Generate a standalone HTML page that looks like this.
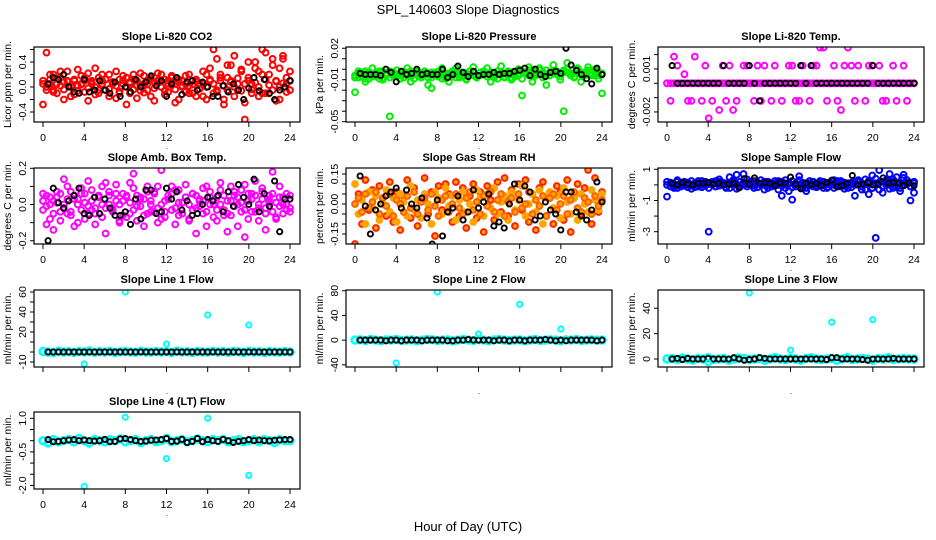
<!DOCTYPE html>
<html><head><meta charset="utf-8"><style>
body{margin:0;background:#fff;}
svg{display:block;font-family:"Liberation Sans",sans-serif;}
</style></head><body>
<svg id="chart" width="936" height="540" viewBox="0 0 936 540" xmlns="http://www.w3.org/2000/svg">
<rect x="0" y="0" width="936" height="540" fill="#fff"/>
<text x="468" y="14" text-anchor="middle" font-size="13">SPL_140603  Slope Diagnostics</text>
<text x="468" y="531" text-anchor="middle" font-size="13">Hour of Day (UTC)</text>
</svg>
<script>
const xTicks=[0,4,8,12,16,20,24];
const co2A=[0.05,-0.05,0.12,0.2,-0.1,0.15,0.08,0.25,-0.15,0.1,0.02,0.18,-0.08,0.22,0.05,-0.12,0.15,0.1,-0.05,0.2,0.08,-0.18,0.12,0.05,0.15,-0.1,0.2,0.02,-0.06,0.18,0.1,-0.15,0.08,0.22,0.0,0.12,-0.08,0.15,0.05,-0.2,0.1,0.18,0.02,-0.1,0.12,0.06,-0.15,0.2,0.3,-0.1,0.45,0.15,-0.2,0.35,0.1,0.5,-0.05,0.25,-0.25,0.4,0.05,0.3,-0.15,0.2,0.55,-0.1,0.35,0.1,-0.2,0.45,0.15,0.25];
const co2B=[-0.28,0.55,0.2,-0.05,0.05,0.25,-0.2,0.1,0.02,-0.12,0.28,0.05,0.15,-0.22,0.1,0.3,-0.05,0.2,0.12,-0.15,0.05,0.25,-0.1,0.18,-0.28,0.08,0.12,-0.18,0.22,0.05,-0.05,0.15,-0.22,0.1,0.2,-0.12,0.05,0.18,-0.25,0.12,0.02,-0.08,0.2,0.1,-0.15,0.05,0.25,-0.2,0.1,0.6,-0.05,0.2,-0.28,0.15,0.35,-0.15,0.05,0.28,-0.52,0.15,-0.1,0.4,0.25,0.6,-0.1,0.2,0.45,-0.22,0.3,0.5,0.05,-0.05];
const co2C=[0.1,0.0,0.05,-0.08,0.14,0.02,-0.04,0.09,0.0,0.12,-0.06,0.04,0.1,-0.02,0.07,0.0,-0.1,0.05,0.13,-0.03,0.08,0.02,-0.07,0.11,0.0,0.06,-0.04,0.1,0.03,-0.09,0.05,0.12,-0.02,0.06,0.0,-0.06,0.1,0.03,-0.04,0.08,0.0,0.05,-0.1,0.04,0.09,-0.03,0.06,0.0,0.12,0.05,-0.08,0.1,0.02,-0.05,0.08,0.0,0.14,-0.06,0.05,0.1,-0.04,0.07,0.0,-0.1,0.12,0.03,-0.05,0.09,0.0,0.06,-0.08,0.1];
const co2K=[0.05,0.15,0.12,0.2,0.0,-0.08,-0.1,0.12,-0.08,-0.05,0.1,-0.05,-0.1,0.08,-0.15,0.0,-0.08,0.12,0.0,0.08,0.18,0.02,0.1,-0.15,0.05,0.15,-0.12,0.08,0.1,-0.05,0.08,0.0,-0.15,-0.15,0.02,-0.08,0.05,-0.05,-0.2,-0.02,0.15,-0.06,0.12,-0.1,-0.2,-0.05,0.0,0.1];
const presA=[-0.022,-0.008,-0.003,-0.012,-0.005,0.001,-0.007,-0.002,-0.01,-0.004,-0.045,-0.006,-0.001,-0.009,-0.003,0.001,-0.012,-0.005,-0.002,-0.008,-0.004,-0.015,-0.018,-0.006,-0.002,0.001,-0.009,-0.012,-0.004,0.001,-0.007,-0.003,-0.01,-0.005,0.002,-0.008,-0.057,-0.004,0.001,-0.012,-0.006,-0.002,0.003,-0.008,-0.003,-0.01,-0.005,0.0,-0.025,-0.004,0.002,-0.012,-0.006,0.001,-0.003,-0.015,-0.006,0.004,-0.002,-0.01,-0.04,0.006,-0.004,-0.008,0.001,-0.012,-0.005,0.002,-0.006,0.0,-0.009,-0.023];
const presB=[-0.006,-0.004,-0.007,-0.002,-0.009,-0.005,-0.003,-0.006,-0.008,-0.004,-0.002,-0.006,-0.005,-0.009,-0.004,-0.003,-0.007,-0.005,-0.002,-0.006,-0.004,-0.008,-0.003,-0.006,-0.005,-0.002,-0.007,-0.004,-0.006,-0.003,-0.008,-0.005,-0.004,-0.002,-0.006,-0.007,-0.003,-0.005,-0.004,-0.006,-0.008,-0.002,-0.005,-0.004,-0.006,-0.003,-0.007,-0.005,-0.002,-0.004,-0.006,-0.003,-0.005,-0.001,-0.004,-0.006,-0.003,-0.002,-0.005,-0.004,-0.001,-0.003,-0.006,-0.004,-0.002,-0.005,-0.003,-0.001,-0.004,-0.006,-0.003,-0.005];
const presC=[-0.008,-0.002,-0.005,-0.009,-0.003,-0.007,-0.004,-0.009,-0.002,-0.006,-0.008,-0.003,-0.007,-0.004,-0.008,-0.006,-0.002,-0.009,-0.004,-0.007,-0.002,-0.005,-0.008,-0.003,-0.007,-0.009,-0.004,-0.006,-0.002,-0.008,-0.004,-0.007,-0.009,-0.005,-0.003,-0.008,-0.006,-0.002,-0.007,-0.003,-0.005,-0.009,-0.003,-0.007,-0.002,-0.008,-0.004,-0.006,-0.009,-0.003,-0.001,-0.007,-0.002,-0.005,-0.008,-0.001,-0.006,-0.004,-0.002,-0.007,-0.003,0.0,-0.004,-0.007,-0.001,-0.003,-0.006,-0.002,-0.005,-0.002,-0.006,-0.004];
const presK=[-0.004,-0.005,-0.005,-0.005,-0.006,0.0,-0.003,-0.012,-0.002,-0.005,-0.004,0.0,-0.005,-0.004,-0.005,-0.005,0.0,-0.008,-0.005,0.003,-0.003,-0.007,-0.002,-0.006,-0.005,-0.005,-0.003,-0.005,-0.004,-0.004,-0.002,-0.001,0.001,-0.006,0.0,-0.005,-0.007,-0.003,-0.002,-0.004,0.02,0.004,-0.001,-0.005,-0.009,-0.014,0.001,-0.005];
const tempA=[0,0,0,0,0,0,0,0,0,0,0,0,0,0,0,0,0,0,0,0,0,0,0,0,0,0,0,0,0,0,0,0,0,0,0,0,0,0,0,0,0,0,0,0,0,0,0,0,0,0,0,0,0,0,0,0,0,0,0,0,0,0,0,0,0,0,0,0,0,0,0,0];
const tempB=[0,-0.00123,0.00186,0.00123,0,0.00063,-0.00123,-0.00123,0.00186,0,-0.00123,0.00123,-0.00244,-0.00123,0,-0.00186,0.00123,-0.00123,0.00123,-0.00186,-0.00123,0,0.00123,0.00123,0,-0.00123,0.00123,-0.00123,0.00123,0,-0.00123,0.00123,0,-0.00123,0,0.00123,0.00123,-0.00123,-0.00123,0.00123,0,-0.00123,0.00123,0.00123,0.00249,0.00249,-0.00123,0,0.00123,-0.00123,-0.00186,0.00123,0.00249,0.00123,-0.00123,0.00123,0,-0.00123,0.00123,0.00123,0,0.00123,-0.00123,-0.00123,0,0.00123,-0.00123,0,0.00123,-0.00123,0,0];
const tempK=[0.00123,0,0,0,0,0,0,0,0,0,0.00123,0,0,0,0,0.00123,0,-0.00123,0,0,0,0,0,0,0,0.00123,0,0.00123,0,0,0,0,0,0,0,0,0,0,0,0.00123,0,0,0,0,0,0,0,0];
const ambA=[-0.03,0.05,-0.08,0.02,0.07,-0.04,0.0,0.1,-0.06,0.03,-0.1,0.06,0.01,-0.05,0.08,-0.02,0.04,-0.07,0.12,0.0,-0.03,0.06,-0.09,0.02,0.05,-0.05,0.09,-0.01,0.03,-0.06,0.07,0.0,-0.04,0.1,-0.08,0.02,0.05,-0.03,0.08,-0.06,0.01,0.04,-0.09,0.06,-0.02,0.03,-0.05,0.1,0.0,-0.07,0.04,0.08,-0.03,0.02,-0.06,0.07,0.0,-0.04,0.11,-0.08,0.03,0.05,-0.02,0.09,-0.05,0.01,0.06,-0.07,0.04,0.0,-0.03,0.05];
const ambB=[0.06,-0.11,0.0,-0.14,0.04,-0.09,0.14,-0.05,0.07,-0.12,0.03,0.09,-0.08,0.13,-0.03,-0.11,0.05,0.1,-0.16,0.07,-0.02,0.11,-0.1,0.06,-0.07,0.12,0.17,-0.09,0.04,-0.12,0.1,-0.04,0.07,-0.1,0.19,-0.07,0.03,0.1,-0.11,0.08,-0.05,0.11,-0.08,0.06,-0.16,0.02,0.09,-0.12,0.07,0.0,-0.09,0.12,-0.06,-0.15,0.1,0.05,-0.12,0.08,-0.18,0.06,-0.04,0.13,-0.09,0.07,-0.14,0.03,0.18,-0.08,0.1,-0.05,0.06,-0.04];
const ambC=[0.02,-0.01,0.04,-0.05,0.01,0.06,-0.02,0.03,-0.04,0.05,0.0,-0.03,0.06,-0.01,0.02,-0.05,0.04,0.0,-0.02,0.05,-0.04,0.02,0.0,-0.06,0.04,0.01,-0.03,0.05,-0.01,0.03,-0.05,0.02,0.06,-0.02,0.0,-0.04,0.03,0.06,-0.02,0.01,-0.05,0.04,0.0,-0.03,0.05,-0.01,0.02,-0.04,0.04,0.02,-0.03,0.0,0.05,-0.05,0.02,-0.01,0.04,0.01,-0.03,0.02,0.06,-0.04,0.0,0.03,-0.02,0.05,-0.04,0.01,-0.01,0.04,0.0,-0.02];
const ambK=[-0.2,0.09,0.01,-0.02,0.02,0.05,0.09,-0.05,-0.06,0.04,-0.05,0.03,-0.02,-0.06,-0.06,-0.04,-0.11,0.03,-0.08,0.08,0.08,-0.05,-0.04,0.09,0.03,0.07,-0.03,0.02,-0.06,-0.05,0.0,0.04,0.02,0.05,-0.04,0.07,-0.01,0.11,0.04,0.0,0.14,-0.04,0.06,-0.01,0.13,-0.15,0.03,0.03];
const rhA=[0.1,-0.05,0.02,-0.1,0.06,-0.02,0.04,-0.08,0.0,0.07,-0.04,0.03,-0.09,0.05,0.01,-0.06,0.09,-0.03,0.02,-0.07,0.05,0.0,-0.1,0.06,0.03,-0.05,0.08,-0.01,0.04,-0.08,0.02,0.06,-0.04,0.0,-0.09,0.07,0.03,-0.06,0.05,-0.02,0.08,-0.05,0.01,0.04,-0.08,0.06,-0.03,0.02,0.09,-0.06,0.0,0.05,-0.04,0.07,-0.1,0.03,0.06,-0.02,0.04,-0.07,0.08,0.01,-0.05,0.03,-0.08,0.05,0.0,-0.04,0.07,0.02,-0.03,0.05];
const rhB=[-0.2,0.05,-0.1,0.12,-0.03,0.07,-0.12,0.09,0.03,-0.06,0.11,-0.09,0.06,-0.13,0.04,0.12,-0.07,0.08,-0.11,0.02,0.13,-0.05,0.06,-0.16,0.09,-0.03,0.1,0.05,-0.09,0.11,-0.06,0.08,-0.12,0.04,0.1,-0.07,0.06,-0.14,0.09,0.02,-0.08,0.11,-0.04,0.13,-0.06,0.07,-0.11,0.1,-0.03,0.12,-0.09,0.05,-0.13,0.08,0.11,-0.06,0.03,-0.1,0.09,0.06,-0.08,0.12,-0.14,0.04,0.1,-0.05,0.08,0.17,-0.1,0.13,-0.04,0.06];
const rhC=[0.0,0.03,-0.04,0.05,-0.02,0.01,0.06,-0.05,0.03,-0.01,0.05,-0.06,0.02,0.0,-0.04,0.04,-0.02,0.06,-0.05,0.01,0.03,-0.03,0.05,-0.01,-0.06,0.02,0.04,-0.04,0.0,0.05,-0.02,-0.05,0.03,0.06,-0.03,0.01,-0.05,0.04,-0.01,0.06,-0.04,0.02,0.05,-0.06,0.01,0.03,-0.04,0.05,-0.02,0.0,0.06,-0.05,0.02,-0.01,0.04,-0.06,0.03,0.05,-0.03,0.0,0.04,-0.05,0.02,0.06,-0.02,-0.04,0.03,0.01,-0.05,0.04,-0.01,0.02];
const rhK=[0.14,-0.01,-0.15,-0.03,0.0,0.04,0.06,0.08,-0.02,0.07,0.0,-0.02,0.03,-0.07,-0.2,0.02,-0.16,-0.04,-0.02,0.04,-0.08,-0.04,0.07,-0.02,0.01,0.05,-0.11,-0.09,-0.12,0.0,0.1,0.02,0.09,0.06,-0.08,-0.06,0.01,-0.03,-0.05,-0.13,0.06,0.06,-0.04,-0.06,-0.08,-0.03,0.11,0.01];
const flowA=[0.0,0.1,-0.1,0.2,0.05,-0.05,0.15,0.0,-0.15,0.1,0.25,-0.05,0.05,0.15,-0.1,0.2,0.0,0.1,-0.2,0.3,0.05,-0.1,0.15,0.35,0.0,-0.2,0.1,0.05,-0.3,0.2,-0.1,0.1,0.25,-0.05,0.0,0.15,-0.15,0.05,0.3,-0.1,0.1,0.0,0.2,-0.05,0.15,-0.2,0.05,0.1,0.0,0.25,-0.1,0.15,0.05,-0.15,0.2,0.0,-0.3,0.35,0.1,-0.2,0.4,0.15,-0.1,0.3,0.0,0.2,-0.15,0.1,0.45,0.05,-0.1,0.2];
const flowB=[-0.75,0.15,-0.2,0.3,-0.1,0.2,0.05,-0.25,0.1,0.25,-0.15,0.0,-3.0,0.2,-0.1,0.35,0.05,-0.2,0.5,0.2,0.65,-0.1,0.7,0.05,0.2,-0.05,0.15,0.3,0.0,0.2,-0.1,0.25,-0.3,-0.7,0.3,-0.4,-0.95,0.1,0.55,-0.2,-0.4,0.1,0.2,-0.15,0.25,0.05,-0.2,0.15,0.3,-0.1,0.2,-0.25,0.1,0.05,-0.7,0.2,0.1,-0.3,-0.6,0.6,-3.4,0.95,-0.5,0.2,0.7,-0.2,0.5,-0.4,0.65,0.3,-1.0,-0.5];
const flowC=[0.2,-0.1,0.05,-0.2,0.15,0.0,-0.15,0.25,0.1,-0.1,0.0,0.2,-0.2,0.1,0.25,-0.05,0.15,-0.15,0.05,0.0,-0.25,0.2,0.05,-0.1,0.15,0.25,-0.15,0.0,0.2,-0.2,0.1,-0.05,0.0,0.2,-0.2,0.05,0.25,-0.1,0.0,0.15,-0.2,0.25,-0.1,0.1,0.0,0.2,-0.15,0.05,-0.2,0.1,0.25,-0.05,-0.2,0.15,0.0,0.3,-0.1,0.05,0.25,-0.2,0.1,-0.3,0.2,0.0,-0.25,0.35,0.1,-0.2,0.0,0.3,-0.1,0.1];
const flowK=[0.1,0.0,0.15,0.05,0.0,0.1,0.1,0.15,0.05,0.1,0.0,0.05,0.1,-0.2,0.4,0.05,0.45,0.1,0.15,0.1,-0.05,0.15,0.1,0.5,0.05,-0.25,0.1,0.0,0.1,-0.05,0.15,0.3,-0.1,-0.05,0.1,0.6,0.0,0.05,0.15,0.0,0.05,0.45,0.1,0.15,0.1,-0.05,0.15,-0.05];
const l1Base=[0.5,0,-0.5,0.8,0,0.3,-0.4,0.6,0,1,-0.3,0.4,0,0.7,-0.5,0.2,0.5,0,-0.3,0.8,0.1,-0.2,0.6,0,0.4,-0.5,0.9,0,0.3,-0.4,0.5,0.1,-0.2,0.7,0,0.4,-0.3,0.6,0.2,-0.5,0.8,0,0.3,-0.6,0.5,0.1,-0.2,0.4,0];
const l1K=[0,0,0,0,0,0,0,0,0,0,0,0,0,0,0,0,0,0,0,0,0,0,0,0,0,0,0,0,0,0,0,0,0,0,0,0,0,0,0,0,0,0,0,0,0,0,0,0];
const l1OutH=[4,8,12,16,20];
const l1OutV=[-12,60,8,37,27];
const l2Base=[0,0.5,-0.5,1,0,-1,0.5,0,1,-0.5,0,0.5,-1,0,1,0.5,-0.5,0,0.5,-1,0,1,0,-0.5,0.5,0,-1,0.5,1,0,-0.5,0,0.5,-1,0,1,-0.5,0,0.5,0,-1,0.5,0,1,-0.5,0,0.5,0,0];
const l2K=[0,0,0,0,0,-1,0,0,-1,0,0,0,-1,0,0,0,0,-1,-1,0,0,1,0,0,0,0,-1,0,0,-1,0,0,-1,0,0,0,1,0,-1,0,-1,0,0,0,0,0,-1,0];
const l2OutH=[4,8,12,16,20];
const l2OutV=[-37,78,10,58,18];
const l3Base=[0,0.5,-0.5,0.8,0,-0.8,0.5,0,1,-0.5,0,0.5,-1,0,0.8,0.5,-0.5,0,0.5,-1,0,1,0,-0.5,0.5,0,-1,0.5,1,0,-0.5,0,0.5,-1,0,1,-0.5,0,0.5,0,-1,0.5,0,1,-0.5,0,0.5,0,0];
const l3K=[0,0.5,-0.5,0.5,0,0,0,0.5,0,0,0,0,1,0,-1,-0.5,0,1,0.5,0,0,0,0,0,0,0,0,0,0,0,-0.5,1,1,0,0,0,0,-0.5,-1,0,0,0,0,0.5,0,0,0,0];
const l3OutH=[4,8,12,16,20];
const l3OutV=[-3,52,7,29,31];
const l4Base=[0,-0.1,0.05,-0.05,0,0.05,-0.05,0.1,0,-0.1,0.05,0,-0.05,0.05,0,0.08,-0.05,0,0.05,-0.08,0,0.05,-0.05,0,0.1,-0.05,0,0.05,-0.05,0,0.08,0,-0.05,0.05,0,0.05,-0.05,0,0.05,-0.05,0,0.05,-0.05,0.05,0,-0.08,0.05,0,0];
const l4K=[0.05,-0.05,-0.03,0,0.03,0.05,0,0.03,0,-0.02,0,0.06,-0.05,-0.03,0.08,0.1,0.05,0.0,-0.03,-0.02,0.02,0.03,0.05,0.1,-0.03,-0.02,0.06,-0.08,-0.03,0.1,-0.05,0.05,0.0,-0.03,0.06,0.0,-0.08,-0.03,0,0.05,0,0.03,0,-0.01,0.02,0.03,0.05,0.05];
const l4OutH=[4,8,12,16,20];
const l4OutV=[-2.05,1.05,-0.8,1.0,-1.55];

const panels=[
 {name:'co2',title:'Slope Li-820 CO2',ylab:'Licor ppm per min.',c:0,r:0,lo:-0.56,hi:0.64,ticks:[-0.4,-0.2,0,0.2,0.4,0.6],labels:['-0.4','','0.0','','0.4',''],series:[[co2A,'#ff0000'],[co2B,'#ff0000'],[co2C,'#ff0000'],[co2K,'#000']]},
 {name:'pressure',title:'Slope Li-820 Pressure',ylab:'kPa per min.',c:1,r:0,lo:-0.0503,hi:0.0212,ticks:[-0.05,-0.04,-0.03,-0.02,-0.01,0,0.01,0.02],labels:['-0.05','','','','-0.01','','','0.02'],series:[[presB,'#00ee00'],[presC,'#00ee00'],[presA,'#00ee00'],[presK,'#000']]},
 {name:'temp',title:'Slope Li-820 Temp.',ylab:'degrees C per min.',c:2,r:0,lo:-0.0027,hi:0.00253,ticks:[-0.002,-0.001,0,0.001,0.002],labels:['-0.002','','','0.001',''],series:[[tempA,'#ff00ff'],[tempB,'#ff00ff'],[tempK,'#000']]},
 {name:'amb-box-temp',title:'Slope Amb. Box Temp.',ylab:'degrees C per min.',c:0,r:1,lo:-0.218,hi:0.2017,ticks:[-0.2,-0.1,0,0.1,0.2],labels:['-0.2','','0.0','','0.2'],series:[[ambA,'#ff00ff'],[ambB,'#ff00ff'],[ambC,'#ff00ff'],[ambK,'#000']]},
 {name:'gas-rh',title:'Slope Gas Stream RH',ylab:'percent per min.',c:1,r:1,lo:-0.2,hi:0.18,ticks:[-0.15,-0.1,-0.05,0,0.05,0.1,0.15],labels:['-0.15','','','0.00','','','0.15'],series:[[rhB,'#ff2000'],[rhA,'#ffa500'],[rhC,'#ff6000'],[rhK,'#000']]},
 {name:'sample-flow',title:'Slope Sample Flow',ylab:'ml/min per min.',c:2,r:1,lo:-3.79,hi:1.083,ticks:[-3,-2,-1,0,1],labels:['-3','','-1','','1'],series:[[flowA,'#0000ff'],[flowB,'#0000ff'],[flowC,'#0000ff'],[flowK,'#000']]},
 {name:'line1-flow',title:'Slope Line 1 Flow',ylab:'ml/min per min.',c:0,r:2,lo:-15,hi:62,ticks:[-10,0,10,20,30,40,50,60],labels:['-10','','','20','','40','','60'],series:[[l1Base,'#00ffff'],[l1K,'#000']],outH:l1OutH,outV:l1OutV},
 {name:'line2-flow',title:'Slope Line 2 Flow',ylab:'ml/min per min.',c:1,r:2,lo:-43.5,hi:81.2,ticks:[-40,0,40,80],labels:['-40','0','40','80'],series:[[l2Base,'#00ffff'],[l2K,'#000']],outH:l2OutH,outV:l2OutV},
 {name:'line3-flow',title:'Slope Line 3 Flow',ylab:'ml/min per min.',c:2,r:2,lo:-6.3,hi:54.4,ticks:[0,20,40],labels:['0','20','40'],series:[[l3Base,'#00ffff'],[l3K,'#000']],outH:l3OutH,outV:l3OutV},
 {name:'line4-flow',title:'Slope Line 4 (LT) Flow',ylab:'ml/min per min.',c:0,r:3,lo:-2.16,hi:1.283,ticks:[-2,-1.5,-1,-0.5,0,0.5,1],labels:['-2.0','','','-0.5','','','1.0'],series:[[l4Base,'#00ffff'],[l4K,'#000']],outH:l4OutH,outV:l4OutV}
];
const rowTop=[47,168,290,412], rowBot=[122,244,367,489];
const svg=document.getElementById('chart');
const NS='http://www.w3.org/2000/svg';
function mk(tag,attrs,parent,txt){const e=document.createElementNS(NS,tag);for(const k in attrs)e.setAttribute(k,attrs[k]);if(txt!==undefined)e.textContent=txt;parent.appendChild(e);return e;}
panels.forEach(p=>{
 const L=34+312*p.c,R=L+266,T=rowTop[p.r],B=rowBot[p.r];
 const g=mk('g',{},svg);
 
 
 const xs=h=>L+9+h*247/24;
 const ys=v=>B-(v-p.lo)/(p.hi-p.lo)*(B-T);
 const clip='clip-'+p.name;
 const cp=mk('clipPath',{id:clip},g);mk('rect',{x:L,y:T,width:R-L,height:B-T},cp);
 const pts=mk('g',{'clip-path':'url(#'+clip+')'},g);
 
 
 const isLine=!!p.outH;
 p.series.forEach(([vals,col],si)=>{
  const black=col==='#000';
  const n=vals.length;
  vals.forEach((v,i)=>{
   const h=black? (i+1)*24/n : i*24/(n-1);
   const rr=black?2.6:(isLine?3.4:2.9);
   const sw=black?1.9:(isLine?2.6:2);
   const c=mk('circle',{cx:xs(h).toFixed(1),cy:ys(v).toFixed(1),r:rr,fill:p.name==='gas-rh'&&!black?'#ffa500':'none',stroke:col,'stroke-width':sw},pts);
   
   
  });
 });
 if(p.outH){p.outH.forEach((h,i)=>{
  const c=mk('circle',{cx:xs(h).toFixed(1),cy:ys(p.outV[i]).toFixed(1),r:2.6,fill:'none',stroke:'#00ffff','stroke-width':2},pts);
  
  
 });}
 const box=mk('rect',{x:L,y:T,width:R-L,height:B-T,fill:'none',stroke:'#000','stroke-width':1.2},g);
 
 
 const t=mk('text',{x:L+133,y:T-7,'text-anchor':'middle','font-size':11,'font-weight':'bold'},g,p.title);
 
 
 const yl=mk('text',{x:0,y:0,transform:`translate(${L-23},${(T+B)/2}) rotate(-90)`,'text-anchor':'middle','font-size':10.5},g,p.ylab);
 
 
 p.ticks.forEach((v,i)=>{
  const y=ys(v);
  mk('line',{x1:L-4,x2:L,y1:y,y2:y,stroke:'#000'},g);
  if(p.labels[i]){const tl=mk('text',{x:0,y:0,transform:`translate(${L-8},${y}) rotate(-90)`,'text-anchor':'middle','font-size':10.5},g,p.labels[i]);
   
   }
 });
 xTicks.forEach(h=>{
  const x=xs(h);
  mk('line',{x1:x,x2:x,y1:B,y2:B+5,stroke:'#000'},g);
  if(p.r!==2){const xl=mk('text',{x:x,y:B+19,'text-anchor':'middle','font-size':10.5},g,String(h));
   
   }
 });
 mk('text',{x:L+133,y:B+27,'text-anchor':'middle','font-size':8},g,'.');
});
</script>
</body></html>
